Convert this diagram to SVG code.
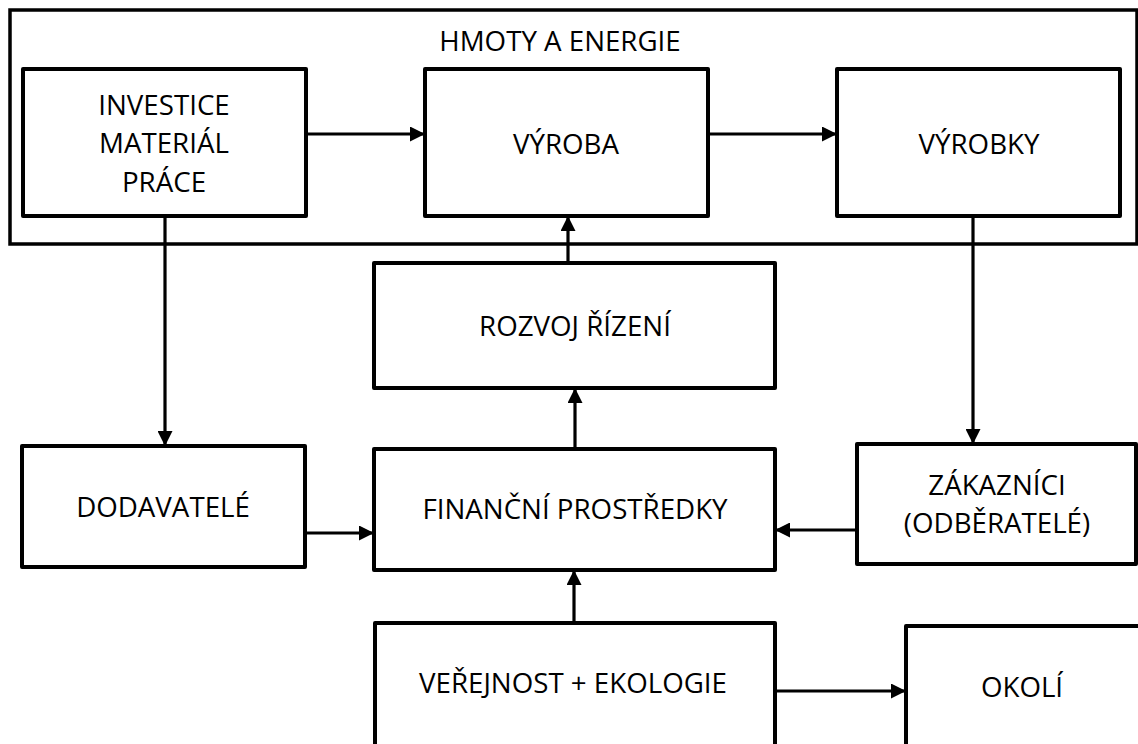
<svg xmlns="http://www.w3.org/2000/svg" width="1138" height="744" viewBox="0 0 1138 744">
  <style>
    .box { fill: #ffffff; stroke: #000000; stroke-width: 4; stroke-linejoin: round; }
    .frame { fill: none; stroke: #000000; stroke-width: 3.5; }
    .lbl { font-family: "Open Sans", "Liberation Sans", Arial, sans-serif; font-size: 27.7px; fill: #000000; text-anchor: middle; }
    .conn { fill: none; stroke: #000000; stroke-width: 3.2; marker-end: url(#arrow); }
  </style>
  <defs>
    <marker id="arrow" markerUnits="userSpaceOnUse" markerWidth="15" markerHeight="15" refX="15" refY="7.5" orient="auto">
      <path d="M0,0 L15,7.5 L0,15 Z" fill="#000000"/>
    </marker>
  </defs>
  <rect width="1138" height="744" fill="#ffffff"/>

  <!-- material and energy flow frame -->
  <g id="hmoty-a-energie">
    <rect class="frame" x="10" y="10" width="1127" height="234"/>
    <text class="lbl" x="560" y="51">HMOTY A ENERGIE</text>
  </g>

  <g id="investice">
    <rect class="box" x="23" y="69" width="283" height="147"/>
    <text class="lbl" x="164" y="115">INVESTICE</text>
    <text class="lbl" x="164" y="153">MATERIÁL</text>
    <text class="lbl" x="164" y="192">PRÁCE</text>
  </g>

  <g id="vyroba">
    <rect class="box" x="425" y="69" width="283" height="147"/>
    <text class="lbl" x="566" y="154">VÝROBA</text>
  </g>

  <g id="vyrobky">
    <rect class="box" x="837" y="69" width="283" height="147"/>
    <text class="lbl" x="979" y="154">VÝROBKY</text>
  </g>

  <g id="rozvoj-rizeni">
    <rect class="box" x="374" y="263" width="401" height="125"/>
    <text class="lbl" x="575" y="336">ROZVOJ ŘÍZENÍ</text>
  </g>

  <g id="dodavatele">
    <rect class="box" x="22" y="446" width="283" height="121"/>
    <text class="lbl" x="163" y="517">DODAVATELÉ</text>
  </g>

  <g id="financni-prostredky">
    <rect class="box" x="374" y="449" width="401" height="121"/>
    <text class="lbl" x="575" y="519">FINANČNÍ PROSTŘEDKY</text>
  </g>

  <g id="zakaznici">
    <rect class="box" x="857" y="444" width="279" height="120"/>
    <text class="lbl" x="997" y="495">ZÁKAZNÍCI</text>
    <text class="lbl" x="997" y="533">(ODBĚRATELÉ)</text>
  </g>

  <g id="verejnost-ekologie">
    <rect class="box" x="375" y="623" width="400" height="140"/>
    <text class="lbl" x="573" y="693">VEŘEJNOST + EKOLOGIE</text>
  </g>

  <g id="okoli">
    <rect class="box" x="906" y="626" width="250" height="140"/>
    <text class="lbl" x="1022" y="697">OKOLÍ</text>
  </g>

  <!-- connectors -->
  <g id="connectors">
    <line class="conn" x1="306" y1="134" x2="425" y2="134"/>
    <line class="conn" x1="708" y1="134" x2="837" y2="134"/>
    <line class="conn" x1="165" y1="216" x2="165" y2="446"/>
    <line class="conn" x1="973" y1="216" x2="973" y2="444"/>
    <line class="conn" x1="568" y1="263" x2="568" y2="216"/>
    <line class="conn" x1="575" y1="449" x2="575" y2="388"/>
    <line class="conn" x1="305" y1="533" x2="374" y2="533"/>
    <line class="conn" x1="857" y1="530" x2="775" y2="530"/>
    <line class="conn" x1="574" y1="623" x2="574" y2="570"/>
    <line class="conn" x1="775" y1="691" x2="906" y2="691"/>
  </g>
</svg>
